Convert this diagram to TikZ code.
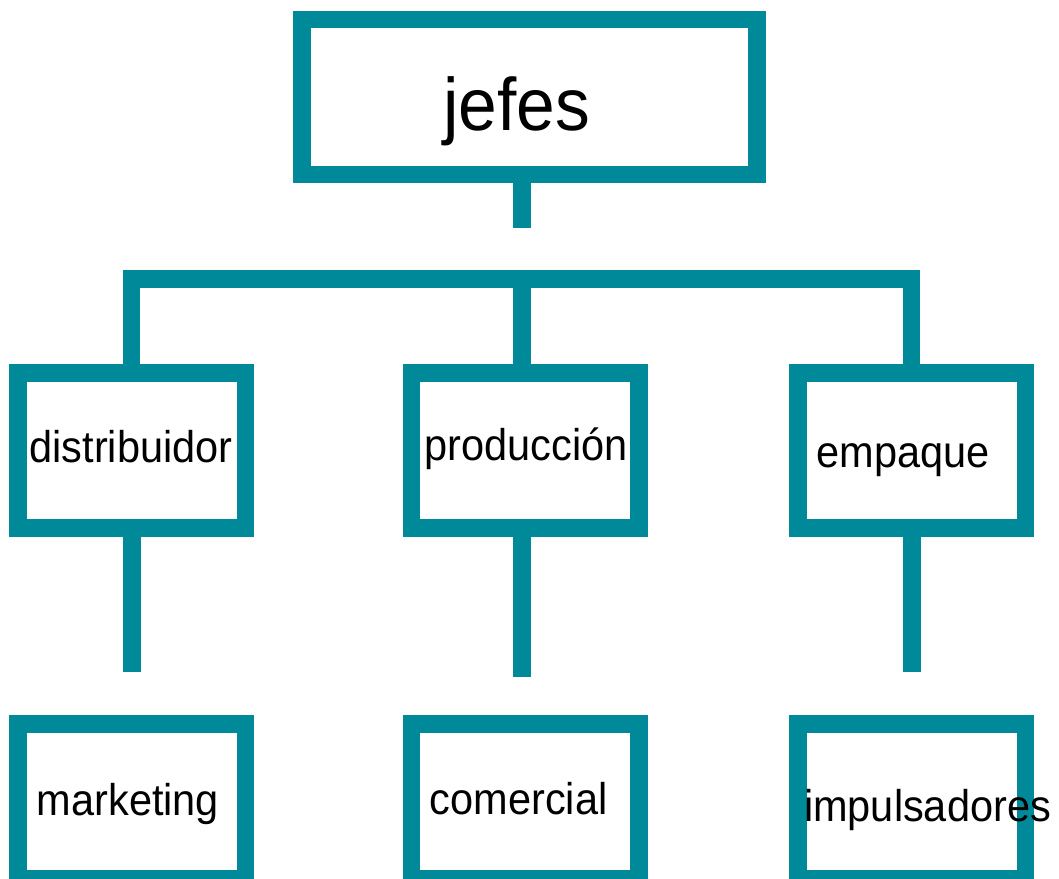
\documentclass[tikz,border=0pt]{standalone}
\usepackage{fontspec}
\setmainfont{Liberation Sans}
\definecolor{boxteal}{HTML}{008A99}
\newcommand{\tall}[1]{\scalebox{1}[1.07]{#1}}

\begin{document}
\begin{tikzpicture}[x=1bp, y=-1bp,
  box/.style={draw=boxteal, line width=17.5bp, rectangle, inner sep=0pt,
              minimum width=227.5bp, minimum height=155bp},
  link/.style={draw=boxteal, line width=17.5bp},
  lbl/.style={anchor=base, inner sep=0pt, font=\fontsize{41.5bp}{50bp}\selectfont}]
\useasboundingbox (0,0) rectangle (1059,879);

% boxes
\node[box, minimum width=455bp, minimum height=154.5bp] (jefesbox) at (529.5,97) {};
\node[box] (distbox) at (131.7,450.5) {};
\node[box] (prodbox) at (525.2,450.5) {};
\node[box] (empbox)  at (911.7,450.5) {};
\node[box] (markbox) at (131.7,801.5) {};
\node[box] (comebox) at (525.2,801.5) {};
\node[box] (impbox)  at (911.7,801.5) {};

% texts
\node[lbl, font=\fontsize{69.5bp}{80bp}\selectfont] (jefes) at (516.7,130) {\tall{jefes}};
\node[lbl] (dist) at (131,462)     {\tall{distribuidor}};
\node[lbl] (prod) at (526.2,460.3) {\tall{producción}};
\node[lbl] (emp)  at (903,467)     {\tall{empaque}};
\node[lbl] (mark) at (127.9,815.7) {\tall{marketing}};
\node[lbl] (come) at (518.6,814)   {\tall{comercial}};
\node[lbl] (imp)  at (927.5,821.7) {\tall{impulsadores}};

% lines
\coordinate (jefesend) at (521.8,227.7);
\coordinate (bar) at (521.8,278.9);
\coordinate (markend) at (132,671.7);
\coordinate (comeend) at (521.8,677.3);
\coordinate (impend) at (912.2,671.7);

\draw[link] (jefesend |- jefesbox.south) -- (jefesend);
\draw[link] (distbox.north) |- (bar) -| (empbox.north);
\draw[link] (bar) -- (bar |- prodbox.north);
\draw[link] (markend |- distbox.south) -- (markend);
\draw[link] (comeend |- prodbox.south) -- (comeend);
\draw[link] (impend |- empbox.south) -- (impend);

\end{tikzpicture}
\end{document}
